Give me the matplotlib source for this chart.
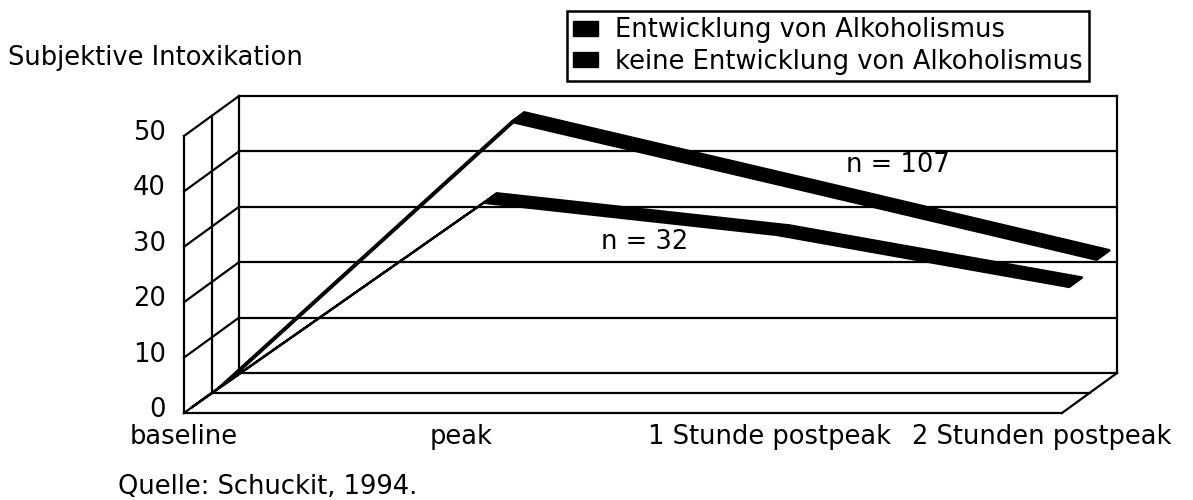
import matplotlib.pyplot as plt
import matplotlib.transforms as mtrans
from matplotlib.patches import Polygon, Patch

plt.rcParams['font.family'] = ['DejaVu Sans']
plt.rcParams['font.size'] = 18.5

# Daten
kategorien = ["baseline", "peak", "1 Stunde postpeak", "2 Stunden postpeak"]
serien = ["Entwicklung von Alkoholismus", "keine Entwicklung von Alkoholismus"]
werte_alk = [0, 37.0, 31.2, 21.8]       # n = 32 (vorne)
werte_kein = [0, 48.0, 35.6, 23.1]      # n = 107 (hinten)
n_labels = ["n = 32", "n = 107"]
n_pos = [(1.575, 30.9), (2.44, 44.8)]   # Position der Beschriftung (Kategorie, Wert)
y_ticks = [0, 10, 20, 30, 40, 50]

# Pseudo-3D: Tiefe in Dateneinheiten (schraege Projektion)
DX = 0.188   # Kategorien pro Tiefeneinheit
DY = 7.22    # Werteeinheiten pro Tiefeneinheit
LW = 1.6

def proj(x, y, d):
    return x + d * DX, y + d * DY

fig = plt.figure(figsize=(11.93, 5.0), dpi=100)
ax = fig.add_axes([184 / 1193, 87 / 500, 878 / 1193, 277 / 500])
ax.set_xlim(0, len(kategorien) - 1)
ax.set_ylim(0, 50)
for s in ax.spines.values():
    s.set_visible(False)

def linie(p0, p1):
    xs = [p0[0], p1[0]]
    ys = [p0[1], p1[1]]
    ax.plot(xs, ys, color='black', lw=LW, clip_on=False, zorder=1, solid_capstyle='projecting')

xmax = len(kategorien) - 1
# Rueckwand
for t in y_ticks:
    linie(proj(0, t, 1), proj(xmax, t, 1))
linie(proj(0, 0, 1), proj(0, 50, 1))
linie(proj(xmax, 0, 1), proj(xmax, 50, 1))
# Seitenwand links
linie(proj(0, 0, 0), proj(0, 50, 0))
linie(proj(0, 0, 0.5), proj(0, 50, 0.5))
for t in y_ticks:
    linie(proj(0, t, 0), proj(0, t, 1))
# Boden
linie(proj(0, 0, 0), proj(xmax, 0, 0))
linie(proj(0, 0, 0.5), proj(xmax, 0, 0.5))
linie(proj(xmax, 0, 0), proj(xmax, 0, 1))

# Baender
def band(werte, d0, d1):
    for i in range(len(werte) - 1):
        pts = [proj(i, werte[i], d0), proj(i + 1, werte[i + 1], d0),
               proj(i + 1, werte[i + 1], d1), proj(i, werte[i], d1)]
        ax.add_patch(Polygon(pts, closed=True, facecolor='black', edgecolor='black',
                             lw=1.6, clip_on=False, zorder=3))

band(werte_alk, 0.13, 0.37)
band(werte_kein, 0.63, 0.87)

for lab, (x, y) in zip(n_labels, n_pos):
    ax.text(x, y, lab, ha='center', va='center', zorder=4)

ax.set_yticks(y_ticks)
ax.set_xticks(range(len(kategorien)))
ax.set_xticklabels(kategorien)
ax.tick_params(axis='y', length=0, pad=13)
ax.tick_params(axis='x', length=0, pad=8)

# y-Beschriftungen etwas nach oben, einzelne x-Beschriftungen leicht nach links
for lab in ax.get_yticklabels():
    lab.set_transform(lab.get_transform() + mtrans.ScaledTranslation(0, 0.06, fig.dpi_scale_trans))
xlabs = ax.get_xticklabels()
xlabs[1].set_transform(xlabs[1].get_transform() + mtrans.ScaledTranslation(-0.16, 0, fig.dpi_scale_trans))
xlabs[3].set_transform(xlabs[3].get_transform() + mtrans.ScaledTranslation(-0.2, 0, fig.dpi_scale_trans))

fig.text(8 / 1193, 1 - 58 / 500, "Subjektive Intoxikation", ha='left', va='center')
fig.text(118 / 1193, 1 - 487 / 500, "Quelle: Schuckit, 1994.", ha='left', va='center')

handles = [Patch(facecolor='black', edgecolor='black') for _ in serien]
leg = fig.legend(handles, serien, loc='upper left', bbox_to_anchor=(567 / 1193, 1 - 11 / 500),
                 frameon=True, fancybox=False, framealpha=1, edgecolor='black',
                 borderpad=0.25, handlelength=0.95, handleheight=0.5, handletextpad=0.66,
                 labelspacing=0.2, borderaxespad=0)
leg.get_frame().set_linewidth(1.8)

fig.savefig('out.png', dpi=100)
